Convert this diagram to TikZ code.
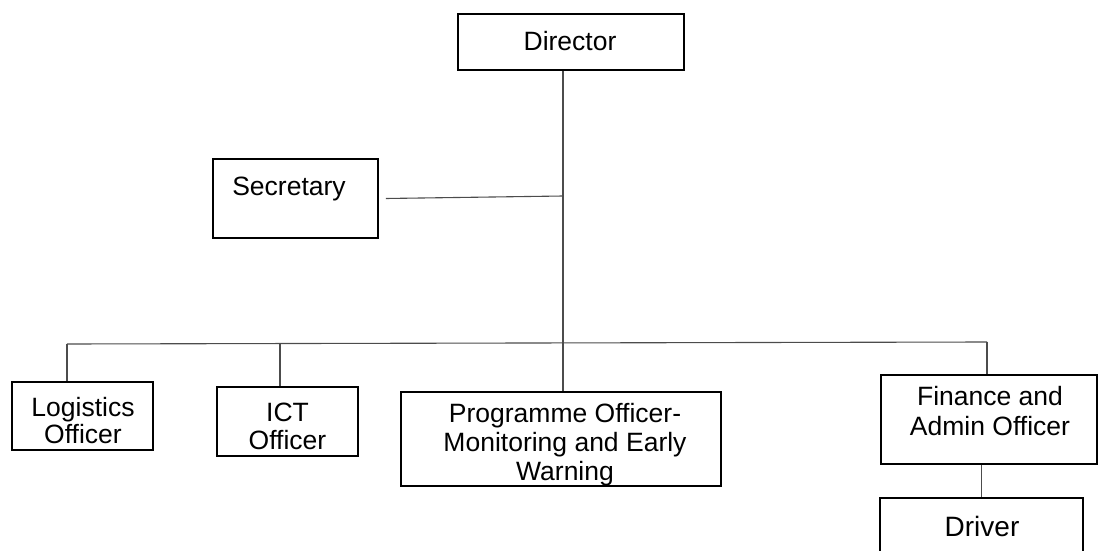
\documentclass[tikz,border=0pt]{standalone}
\usepackage{fontspec}
\setmainfont{Liberation Sans}
\begin{document}
\begin{tikzpicture}[x=1pt, y=-1pt,
    box/.style = {draw, line width=1.6pt, inner sep=0pt},
    boxtext/.style = {align=center, inner sep=0pt, font=\fontsize{26.5}{29}\selectfont},
    link/.style = {draw=black!70, line width=1.1pt}]
    \clip (0, 0) rectangle (1098, 551);
    % boxes
    \node [box, minimum width=226pt, minimum height=56pt] (director) at (571, 42) {};
    \node [box, minimum width=165pt, minimum height=79pt] (secretary) at (295.5, 198.5) {};
    \node [box, minimum width=141pt, minimum height=68pt] (logistics) at (82.5, 416) {};
    \node [box, minimum width=141pt, minimum height=69pt] (ict) at (287.5, 421.5) {};
    \node [box, minimum width=320pt, minimum height=94pt] (programme) at (561, 439) {};
    \node [box, minimum width=216pt, minimum height=89pt] (finance) at (989, 419.5) {};
    \node [box, minimum width=203pt, minimum height=54pt] (driver) at (981.5, 525) {};
    % texts
    \node [boxtext] (directortext) at (570, 41) {Director};
    \node [boxtext] (secretarytext) at (289, 189) {Secretary};
    \node [boxtext, font=\fontsize{26.5}{27}\selectfont] (logisticstext) at (83, 421) {Logistics\\Officer};
    \node [boxtext, font=\fontsize{26.5}{28}\selectfont] (icttext) at (287.5, 426) {ICT\\Officer};
    \node [boxtext] (programmetext) at (565, 445) {Programme Officer-\\Monitoring and Early\\Warning};
    \node [boxtext, font=\fontsize{26.5}{30}\selectfont] (financetext) at (990, 411) {Finance and\\Admin Officer};
    \node [boxtext, font=\fontsize{28}{30}\selectfont] (drivertext) at (982, 526) {Driver};
    % junctions
    \coordinate (secjoin) at (563, 196);
    \coordinate (logdrop) at (67, 344);
    \coordinate (ictdrop) at (280, 344);
    \coordinate (findrop) at (987, 342);
    % connectors
    \draw [link] (director.south -| secjoin) -- (programme.north -| secjoin);
    \draw [link] ([xshift=7pt]secretary.east) -- (secjoin);
    \draw [link] (logdrop) -- (findrop);
    \draw [link] (logdrop) -- (logdrop |- logistics.north);
    \draw [link] (ictdrop) -- (ictdrop |- ict.north);
    \draw [link] (findrop) -- (findrop |- finance.north);
    \draw [link] (finance.south -| driver.north) -- (driver.north);
\end{tikzpicture}
\end{document}
